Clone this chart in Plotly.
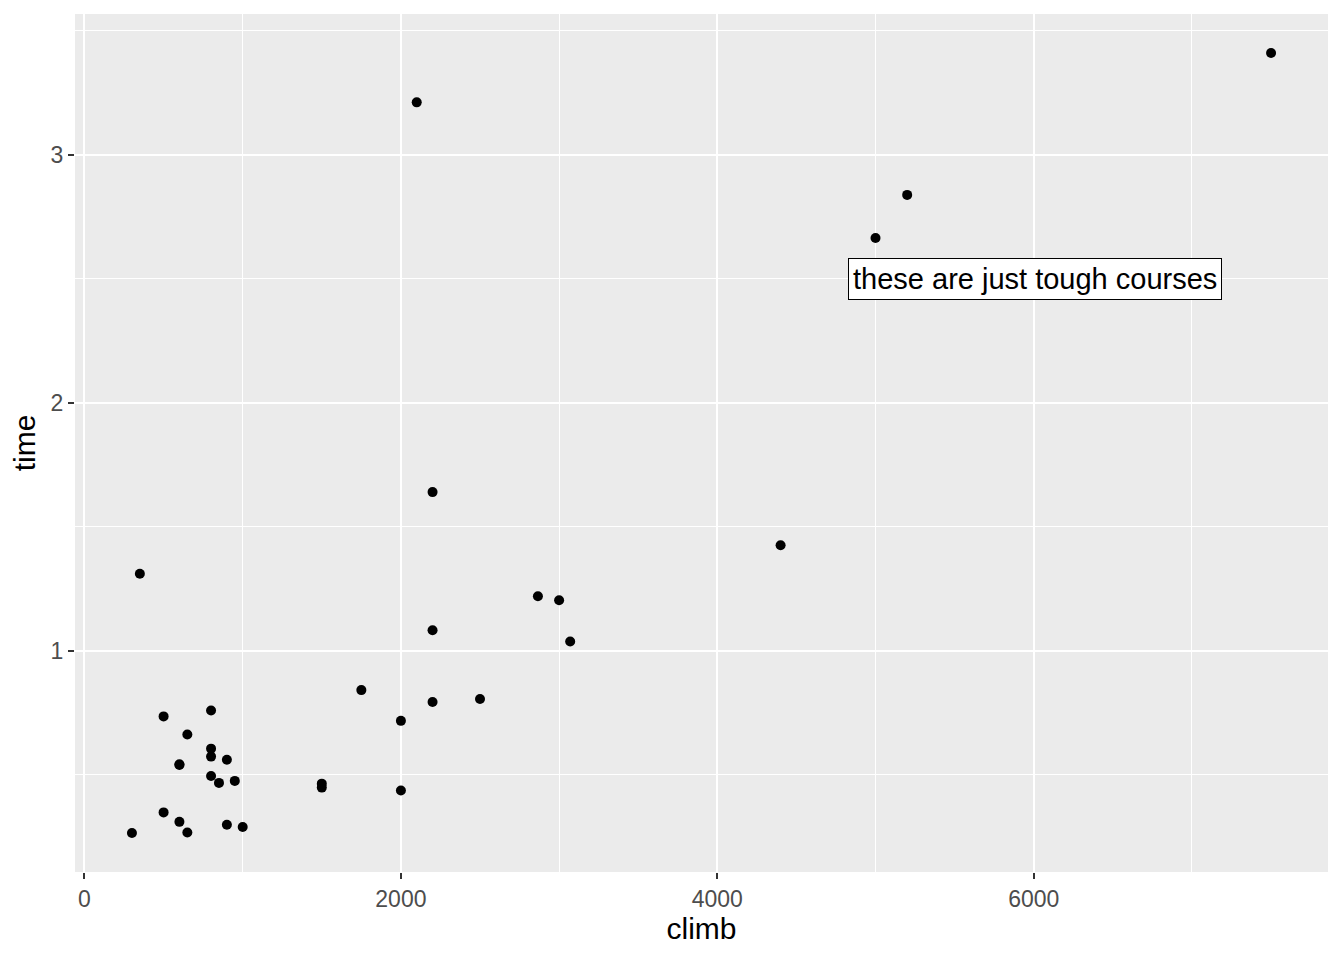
import plotly.graph_objects as go

# hill race records: climb (ft) and record time (hours)
climb = [650, 2500, 900, 800, 3070, 2866, 7500, 800, 800, 650, 2100, 2000,
         2200, 500, 1500, 3000, 2200, 350, 1000, 600, 300, 1500, 2200, 900,
         600, 2000, 800, 950, 1750, 500, 4400, 600, 5200, 850, 5000]
time = [0.268, 0.806, 0.561, 0.760, 1.038, 1.220, 3.410, 0.606, 0.496, 0.663,
        3.211, 0.718, 1.083, 0.736, 0.449, 1.204, 1.640, 1.311, 0.290, 0.543,
        0.266, 0.465, 0.794, 0.299, 0.311, 0.437, 0.574, 0.476, 0.842, 0.349,
        1.426, 0.540, 2.838, 0.468, 2.664]

x_ticks = [0, 2000, 4000, 6000]
y_ticks = [1, 2, 3]

label_text = "these are just tough courses"
label_x = 6005
label_y = 2.5

FONT = "Liberation Sans, Arial, sans-serif"


def expand(vals, frac=0.05):
    lo, hi = min(vals), max(vals)
    pad = (hi - lo) * frac
    return [lo - pad, hi + pad]


fig = go.Figure()

fig.add_trace(
    go.Scatter(
        x=climb,
        y=time,
        mode='markers',
        marker=dict(color='black', size=10, line=dict(width=0)),
        showlegend=False
    )
)

fig.add_annotation(
    x=label_x, y=label_y,
    text=label_text,
    showarrow=False,
    font=dict(family=FONT, size=29, color='black'),
    bgcolor='white',
    bordercolor='black',
    borderwidth=1,
    borderpad=4
)

axis_common = dict(
    showline=False,
    zeroline=False,
    showgrid=True,
    gridcolor='white',
    gridwidth=1.6,
    ticks='outside',
    ticklen=6,
    tickwidth=1.5,
    tickcolor='#333333',
    tickfont=dict(family=FONT, size=23, color='#4D4D4D'),
)

# the page body has an 8px margin, so margins are offset to keep the panel in place
fig.update_layout(
    width=1344,
    height=960,
    margin=dict(l=67, r=24, t=6, b=96),
    paper_bgcolor='white',
    plot_bgcolor='#EBEBEB',
    font=dict(family=FONT),
    xaxis=dict(
        range=expand(climb),
        tickmode='array',
        tickvals=x_ticks,
        minor=dict(dtick=1000, tick0=0, showgrid=True, gridcolor='white',
                   gridwidth=0.8, ticks=''),
        title=dict(text='climb', font=dict(family=FONT, size=30, color='black'),
                   standoff=4),
        **axis_common
    ),
    yaxis=dict(
        range=expand(time),
        tickmode='array',
        tickvals=y_ticks,
        minor=dict(dtick=0.5, tick0=0, showgrid=True, gridcolor='white',
                   gridwidth=0.8, ticks=''),
        title=dict(text='time', font=dict(family=FONT, size=30, color='black'),
                   standoff=8),
        **axis_common
    ),
)

fig.write_html("out.html")
